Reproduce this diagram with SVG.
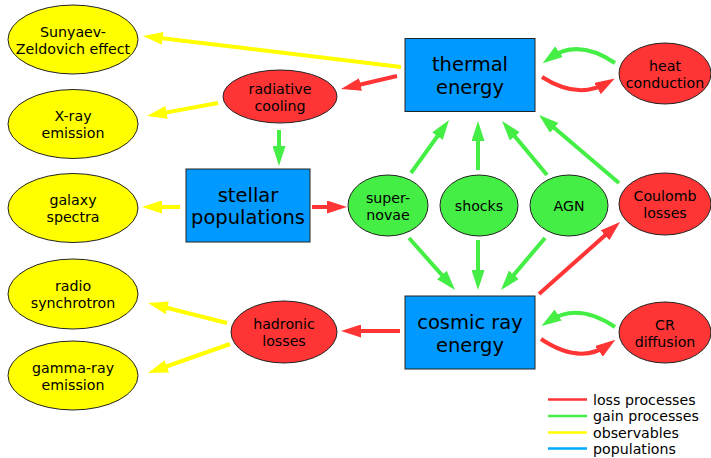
<svg xmlns="http://www.w3.org/2000/svg" width="711" height="458" viewBox="0 0 711 458">
<style>
text{font-family:"DejaVu Sans","Liberation Sans",sans-serif;fill:#000;text-anchor:middle}
.t{font-size:14.2px}
.b{font-size:19.5px}
.lg{font-size:14.2px;text-anchor:start}
.obs{fill:#ffff00;stroke:#222;stroke-width:1}
.loss{fill:#ff3535;stroke:#222;stroke-width:1}
.gain{fill:#44ee44;stroke:#222;stroke-width:1}
.pop{fill:#0099ff;stroke:#222;stroke-width:1}
.r{stroke:#ff3535;stroke-width:4;fill:none;marker-end:url(#ar)}
.g{stroke:#44ee44;stroke-width:4;fill:none;marker-end:url(#ag)}
.y{stroke:#ffff00;stroke-width:4;fill:none;marker-end:url(#ay)}
</style>
<defs>
<marker id="ar" viewBox="0 0 20 13" refX="11" refY="6.5" markerWidth="5" markerHeight="3.25" orient="auto"><path d="M0,0L20,6.5L0,13z" fill="#ff3535"/></marker>
<marker id="ag" viewBox="0 0 20 13" refX="11" refY="6.5" markerWidth="5" markerHeight="3.25" orient="auto"><path d="M0,0L20,6.5L0,13z" fill="#44ee44"/></marker>
<marker id="ay" viewBox="0 0 20 13" refX="11" refY="6.5" markerWidth="5" markerHeight="3.25" orient="auto"><path d="M0,0L20,6.5L0,13z" fill="#ffff00"/></marker>
</defs>
<rect width="711" height="458" fill="#fff"/>
<g id="connectors">
<path class="y" d="M401,67L151.9,37.1"/>
<path class="r" d="M397,76L349.8,87"/>
<path class="y" d="M218,103L155.8,114.4"/>
<path class="g" d="M279,130L279,157"/>
<path class="y" d="M180,207L151,207"/>
<path class="r" d="M312,207L338,207"/>
<path class="g" d="M411,173L443.8,127.3"/>
<path class="g" d="M478,170L478,130"/>
<path class="g" d="M547,175L507.8,127.9"/>
<path class="g" d="M619,183L545.9,120.8"/>
<path class="g" d="M615,63Q578,38 550,58"/>
<path class="r" d="M542,77Q578,100 607,83"/>
<path class="g" d="M409,238L449.1,283.2"/>
<path class="g" d="M478,240L478,281"/>
<path class="g" d="M545,238L506.8,283.1"/>
<path class="r" d="M539,294L613.3,228"/>
<path class="g" d="M615,327Q578,302 549,321"/>
<path class="r" d="M541,339Q580,365 608,345"/>
<path class="r" d="M400,331L350,331"/>
<path class="y" d="M227,323L156.7,305.2"/>
<path class="y" d="M230,344L156.5,370"/>
</g>
<g id="sz"><ellipse class="obs" cx="73" cy="39.5" rx="65" ry="34.5"/><text class="t" x="73" y="36.5">Sunyaev-</text><text class="t" x="73" y="53.5">Zeldovich effect</text></g>
<g id="xray"><ellipse class="obs" cx="73" cy="124" rx="65" ry="34.5"/><text class="t" x="73" y="121">X-ray</text><text class="t" x="73" y="138">emission</text></g>
<g id="galaxy"><ellipse class="obs" cx="73" cy="208" rx="65" ry="34.5"/><text class="t" x="73" y="205">galaxy</text><text class="t" x="73" y="222">spectra</text></g>
<g id="radio"><ellipse class="obs" cx="73" cy="294" rx="65" ry="35"/><text class="t" x="73" y="291">radio</text><text class="t" x="73" y="308">synchrotron</text></g>
<g id="gamma"><ellipse class="obs" cx="73" cy="375.5" rx="65" ry="34.5"/><text class="t" x="73" y="372.5">gamma-ray</text><text class="t" x="73" y="389.5">emission</text></g>
<g id="radcool"><ellipse class="loss" cx="280" cy="96.5" rx="57" ry="26.5"/><text class="t" x="280" y="93.5">radiative</text><text class="t" x="280" y="110.5">cooling</text></g>
<g id="stellar"><rect class="pop" x="186" y="169" width="124" height="73"/><text class="b" x="248" y="201.5">stellar</text><text class="b" x="248" y="224">populations</text></g>
<g id="thermal"><rect class="pop" x="405" y="38.5" width="130" height="73"/><text class="b" x="470" y="70.5">thermal</text><text class="b" x="470" y="93.5">energy</text></g>
<g id="heat"><ellipse class="loss" cx="665" cy="73.5" rx="46" ry="30.5"/><text class="t" x="665" y="70.5">heat</text><text class="t" x="665" y="87.5">conduction</text></g>
<g id="sn"><ellipse class="gain" cx="388" cy="205.5" rx="40" ry="30.5"/><text class="t" x="388" y="202.5">super-</text><text class="t" x="388" y="219.5">novae</text></g>
<g id="shocks"><ellipse class="gain" cx="479" cy="205.5" rx="39" ry="30.5"/><text class="t" x="479" y="210.5">shocks</text></g>
<g id="agn"><ellipse class="gain" cx="569" cy="205.5" rx="39" ry="30.5"/><text class="t" x="569" y="210.5">AGN</text></g>
<g id="coulomb"><ellipse class="loss" cx="665" cy="204" rx="46" ry="31"/><text class="t" x="665" y="201">Coulomb</text><text class="t" x="665" y="218">losses</text></g>
<g id="cr"><rect class="pop" x="405" y="296" width="130" height="73"/><text class="b" x="470" y="328.5">cosmic ray</text><text class="b" x="470" y="351.5">energy</text></g>
<g id="crdiff"><ellipse class="loss" cx="665" cy="332.5" rx="46" ry="30.5"/><text class="t" x="665" y="329.5">CR</text><text class="t" x="665" y="346.5">diffusion</text></g>
<g id="hadronic"><ellipse class="loss" cx="284" cy="332" rx="53" ry="31"/><text class="t" x="284" y="329">hadronic</text><text class="t" x="284" y="346">losses</text></g>
<g id="legend">
<line x1="548" y1="399.5" x2="587" y2="399.5" stroke="#ff3535" stroke-width="2.5"/>
<line x1="548" y1="416" x2="587" y2="416" stroke="#44ee44" stroke-width="2.5"/>
<line x1="548" y1="432.5" x2="587" y2="432.5" stroke="#ffff00" stroke-width="2.5"/>
<line x1="548" y1="448.5" x2="587" y2="448.5" stroke="#00aaff" stroke-width="2.5"/>
<text class="lg" x="593" y="404.5">loss processes</text>
<text class="lg" x="593" y="421">gain processes</text>
<text class="lg" x="593" y="437.5">observables</text>
<text class="lg" x="593" y="454">populations</text>
</g>
</svg>
